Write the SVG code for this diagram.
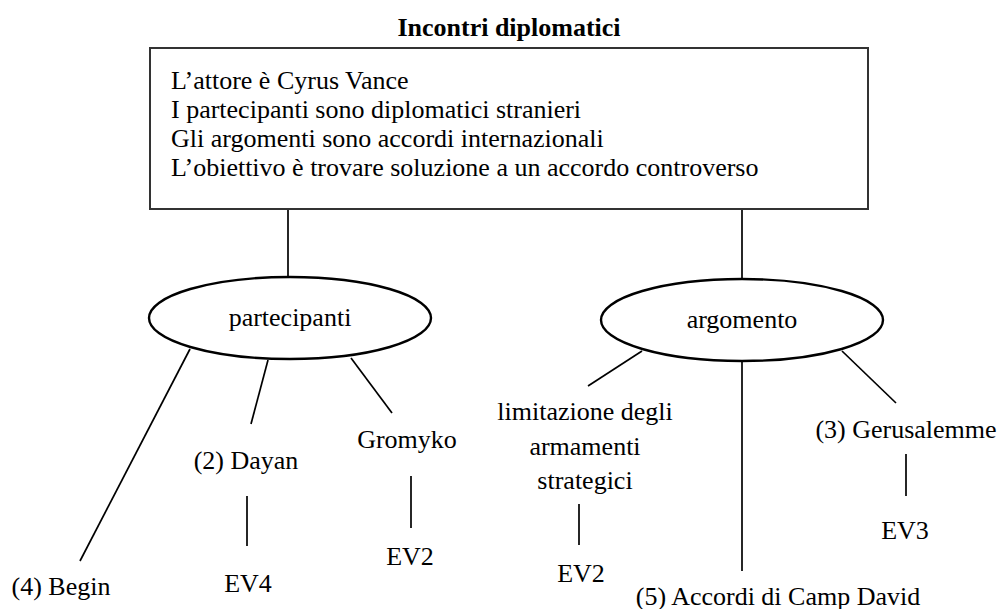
<svg xmlns="http://www.w3.org/2000/svg" width="1003" height="609" viewBox="0 0 1003 609">
  <style>
    text { font-family: "Liberation Serif", "Times New Roman", serif; font-size: 26px; fill: #000; }
    .title { font-weight: bold; }
    .mid { text-anchor: middle; }
    .box { fill: #fff; stroke: #333; stroke-width: 2; }
    .oval { fill: #fff; stroke: #000; stroke-width: 2.4; }
    .link { stroke: #000; stroke-width: 1.7; fill: none; }
  </style>
  <rect width="1003" height="609" fill="#fff"/>

  <!-- connectors -->
  <g id="connectors" class="link">
    <line x1="288" y1="209" x2="288" y2="277"/>
    <line x1="742" y1="209" x2="742" y2="279"/>
    <line x1="190" y1="349" x2="80" y2="561"/>
    <line x1="268" y1="360" x2="251" y2="424"/>
    <line x1="351" y1="358" x2="392" y2="413"/>
    <line x1="247" y1="496" x2="247" y2="546"/>
    <line x1="411" y1="476" x2="411" y2="528"/>
    <line x1="642" y1="351" x2="588" y2="386"/>
    <line x1="742" y1="361" x2="742" y2="571"/>
    <line x1="842" y1="351" x2="896" y2="403"/>
    <line x1="579" y1="504" x2="579" y2="545"/>
    <line x1="906" y1="454" x2="906" y2="496"/>
  </g>

  <!-- frame description -->
  <g id="frame">
    <text class="title mid" x="509" y="36">Incontri diplomatici</text>
    <rect class="box" x="150" y="48" width="718" height="161"/>
    <text x="171" y="89">L’attore è Cyrus Vance</text>
    <text x="171" y="118">I partecipanti sono diplomatici stranieri</text>
    <text x="171" y="147">Gli argomenti sono accordi internazionali</text>
    <text x="171" y="176">L’obiettivo è trovare soluzione a un accordo controverso</text>
  </g>

  <g id="partecipanti">
    <ellipse class="oval" cx="290" cy="318" rx="141" ry="41"/>
    <text class="mid" x="290" y="326">partecipanti</text>
  </g>

  <g id="argomento">
    <ellipse class="oval" cx="742" cy="320" rx="141" ry="41"/>
    <text class="mid" x="742" y="328">argomento</text>
  </g>

  <g id="begin"><text class="mid" x="61" y="595">(4) Begin</text></g>
  <g id="dayan"><text class="mid" x="246" y="469">(2) Dayan</text></g>
  <g id="ev4"><text class="mid" x="248" y="592">EV4</text></g>
  <g id="gromyko"><text class="mid" x="407" y="448">Gromyko</text></g>
  <g id="ev2-gromyko"><text class="mid" x="410" y="565">EV2</text></g>

  <g id="limitazione">
    <text class="mid" x="585" y="420">limitazione degli</text>
    <text class="mid" x="585" y="455">armamenti</text>
    <text class="mid" x="585" y="489">strategici</text>
  </g>
  <g id="ev2-limitazione"><text class="mid" x="581" y="582">EV2</text></g>
  <g id="camp-david"><text class="mid" x="778" y="605">(5) Accordi di Camp David</text></g>
  <g id="gerusalemme"><text class="mid" x="906" y="438">(3) Gerusalemme</text></g>
  <g id="ev3"><text class="mid" x="905" y="539">EV3</text></g>
</svg>
